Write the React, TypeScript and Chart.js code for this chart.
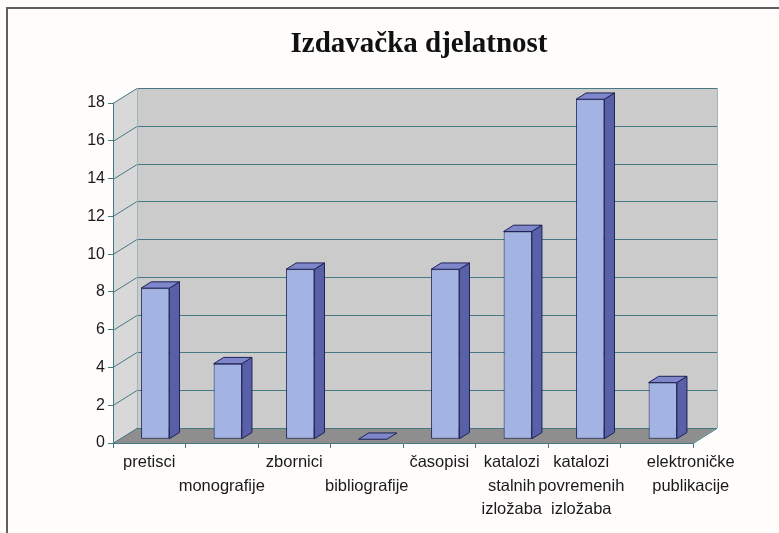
import React, { useEffect, useRef } from "react";
import { Chart, registerables } from "chart.js";

Chart.register(...registerables);

const title = "Izdavačka djelatnost";
const categories: string[][] = [
  ["pretisci"],
  ["", "monografije"],
  ["zbornici"],
  ["", "bibliografije"],
  ["časopisi"],
  ["katalozi", "stalnih", "izložaba"],
  ["katalozi", "povremenih", "izložaba"],
  ["elektroničke", "publikacije"],
];
const values: number[] = [8, 4, 9, 0, 9, 11, 18, 3];
const yMin = 0;
const yMax = 18;
const yStep = 2;

const DX = 24;
const DY = -15;
const BAR_FRONT = 0.25;
const BAR_DEPTH = 0.42;

const GRID = "#477886";
const FRONT = "#a2b3e4";
const SIDE = "#5a60a8";
const TOP = "#7f86c9";
const OUTLINE = "#1c2255";

// horizontal nudges of crowded x labels (as Excel lays them out)
const labelNudge: Record<number, number> = { 6: -3, 7: 34 };

const threeD = {
  id: "threeD",
  beforeDraw(chart: any) {
    const { ctx, chartArea: a, scales } = chart;
    const y = scales.y;
    const x = scales.x;
    const items = x.getLabelItems(a);
    items.forEach((it: any, i: number) => {
      if (labelNudge[i] && !it._nudged) {
        it.options.translation[0] += labelNudge[i];
        it._nudged = true;
      }
    });
    const left = a.left;
    const right = a.right;
    const top = y.getPixelForValue(yMax);
    const bottom = y.getPixelForValue(yMin);
    ctx.save();
    ctx.fillStyle = "#d8d8d8";
    ctx.beginPath();
    ctx.moveTo(left, bottom);
    ctx.lineTo(left, top);
    ctx.lineTo(left + DX, top + DY);
    ctx.lineTo(left + DX, bottom + DY);
    ctx.closePath();
    ctx.fill();
    ctx.fillStyle = "#cbcbcb";
    ctx.fillRect(left + DX, top + DY, right - left, bottom - top);
    ctx.fillStyle = "#8e8e8e";
    ctx.beginPath();
    ctx.moveTo(left, bottom);
    ctx.lineTo(right, bottom);
    ctx.lineTo(right + DX, bottom + DY);
    ctx.lineTo(left + DX, bottom + DY);
    ctx.closePath();
    ctx.fill();
    ctx.strokeStyle = GRID;
    ctx.lineWidth = 1;
    for (const t of y.ticks) {
      const py = Math.round(y.getPixelForValue(t.value)) + 0.5;
      ctx.beginPath();
      ctx.moveTo(left, py);
      ctx.lineTo(left + DX, py + DY);
      ctx.lineTo(right + DX, py + DY);
      ctx.stroke();
    }
    ctx.strokeStyle = "#9fb4bb";
    ctx.beginPath();
    ctx.moveTo(left + DX + 0.5, top + DY);
    ctx.lineTo(left + DX + 0.5, bottom + DY);
    ctx.moveTo(right + DX + 0.5, top + DY);
    ctx.lineTo(right + DX + 0.5, bottom + DY);
    ctx.stroke();
    ctx.strokeStyle = GRID;
    ctx.beginPath();
    ctx.moveTo(right, bottom + 0.5);
    ctx.lineTo(right + DX, bottom + DY + 0.5);
    ctx.stroke();
    ctx.restore();
  },
  beforeDatasetsDraw(chart: any) {
    const { ctx } = chart;
    ctx.save();
    ctx.translate(DX * BAR_FRONT, DY * BAR_FRONT);
  },
  afterDatasetsDraw(chart: any) {
    const { ctx } = chart;
    const bdx = DX * BAR_DEPTH;
    const bdy = DY * BAR_DEPTH;
    const meta = chart.getDatasetMeta(0);
    ctx.lineWidth = 1;
    ctx.strokeStyle = OUTLINE;
    ctx.lineJoin = "round";
    for (const bar of meta.data) {
      const p = bar.getProps(["x", "y", "base", "width"], true);
      const l = p.x - p.width / 2;
      const r = p.x + p.width / 2;
      const t = Math.min(p.y, p.base);
      const b = Math.max(p.y, p.base);
      if (b - t > 0.5) {
        ctx.fillStyle = SIDE;
        ctx.beginPath();
        ctx.moveTo(r, t);
        ctx.lineTo(r + bdx, t + bdy);
        ctx.lineTo(r + bdx, b + bdy);
        ctx.lineTo(r, b);
        ctx.closePath();
        ctx.fill();
        ctx.stroke();
      }
      ctx.fillStyle = TOP;
      ctx.beginPath();
      ctx.moveTo(l, t);
      ctx.lineTo(r, t);
      ctx.lineTo(r + bdx, t + bdy);
      ctx.lineTo(l + bdx, t + bdy);
      ctx.closePath();
      ctx.fill();
      ctx.stroke();
    }
    ctx.restore();
  },
};

export default function App() {
  const ref = useRef<HTMLCanvasElement>(null);
  useEffect(() => {
    if (!ref.current) return;
    const chart = new Chart(ref.current, {
      type: "bar",
      data: {
        labels: categories,
        datasets: [
          {
            data: values,
            backgroundColor: FRONT,
            borderColor: OUTLINE,
            borderWidth: 1,
            borderSkipped: false,
            barPercentage: 0.39,
            categoryPercentage: 1,
            clip: false,
          } as any,
        ],
      },
      options: {
        responsive: false,
        animation: false,
        devicePixelRatio: 1,
        layout: { padding: { top: 103, right: 86, left: 0, bottom: 0 } },
        plugins: { legend: { display: false }, tooltip: { enabled: false }, title: { display: false } },
        scales: {
          x: {
            grid: { display: true, drawOnChartArea: false, drawTicks: true, tickLength: 5, color: GRID, offset: true },
            border: { display: true, color: GRID },
            ticks: {
              autoSkip: false,
              maxRotation: 0,
              minRotation: 0,
              padding: 3,
              color: "#1a1a1a",
              font: { family: "'Liberation Sans', Arial, sans-serif", size: 16.5, lineHeight: 1.42 },
            },
            afterFit: (s: any) => {
              s.height = 90;
              s.paddingLeft = 0;
              s.paddingRight = 0;
            },
          },
          y: {
            min: yMin,
            max: yMax,
            grid: { display: true, drawOnChartArea: false, drawTicks: true, tickLength: 5, color: GRID },
            border: { display: true, color: GRID },
            ticks: {
              stepSize: yStep,
              padding: 3,
              color: "#1a1a1a",
              font: { family: "'Liberation Sans', Arial, sans-serif", size: 16 },
            },
            afterFit: (s: any) => {
              s.width = 113;
              s.paddingTop = 0;
              s.paddingBottom = 0;
            },
          },
        },
      },
      plugins: [threeD],
    });
    return () => chart.destroy();
  }, []);
  return (
    <div style={{ position: "absolute", left: 0, top: 0, width: 779, height: 533, background: "#fffdfc", overflow: "hidden" }}>
      <div
        style={{
          position: "absolute",
          left: 6,
          top: 7,
          right: 0,
          bottom: 0,
          borderTop: "2px solid #5f5f5f",
          borderLeft: "2px solid #5f5f5f",
        }}
      />
      <canvas ref={ref} width={779} height={533} style={{ position: "absolute", left: 0, top: 0 }} />
      <div
        style={{
          position: "absolute",
          left: 219,
          top: 26,
          width: 400,
          textAlign: "center",
          fontFamily: "'Liberation Serif', 'Times New Roman', serif",
          fontWeight: "bold",
          fontSize: 29,
          lineHeight: "33px",
          color: "#111",
        }}
      >
        {title}
      </div>
    </div>
  );
}
